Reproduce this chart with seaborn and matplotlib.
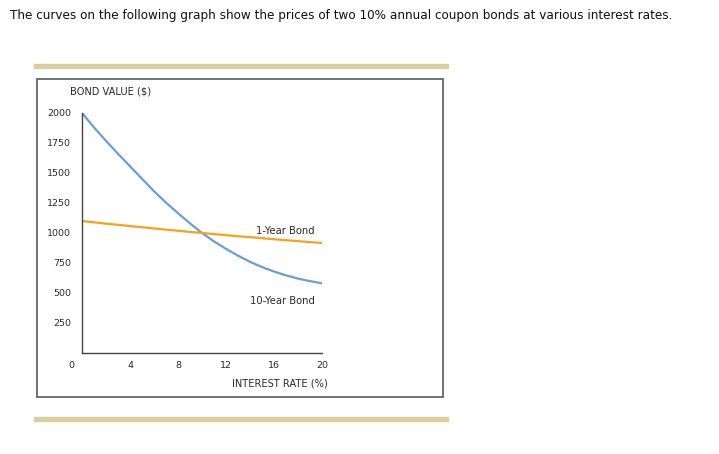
import matplotlib
matplotlib.use("Agg")
import matplotlib.pyplot as plt
import seaborn as sns
import pandas as pd
from matplotlib.patches import Rectangle

rates = [0, 1, 2, 3, 4, 5, 6, 7, 8, 9, 10, 11, 12, 13, 14, 15, 16, 17, 18, 19, 20]
ten_year = [2000, 1880, 1768, 1660, 1556, 1452, 1348, 1253, 1165, 1080, 1000,
            930, 868, 811, 760, 716, 679, 647, 620, 599, 581]
one_year = [1100, 1089, 1078, 1068, 1058, 1048, 1038, 1028, 1019, 1009, 1000,
            991, 982, 973, 965, 957, 948, 940, 932, 924, 917]
x_ticks = [4, 8, 12, 16, 20]
y_ticks = [250, 500, 750, 1000, 1250, 1500, 1750, 2000]

df = pd.DataFrame({
    "rate": rates * 2,
    "value": ten_year + one_year,
    "bond": ["10-Year Bond"] * len(rates) + ["1-Year Bond"] * len(rates),
})

sns.set_theme(style="white")
plt.rcParams['font.family'] = ['DejaVu Sans']

W, H = 719, 454
fig = plt.figure(figsize=(W / 100, H / 100), dpi=100)

def fx(px):
    return px / W

def fy(py):
    return 1 - py / H

# decorative bars and frame
fig.patches.append(Rectangle((fx(34), fy(67.5)), fx(448) - fx(34), 3.5 / H,
                             transform=fig.transFigure, color="#dccf9f", zorder=0))
fig.patches.append(Rectangle((fx(34), fy(420.5)), fx(448) - fx(34), 3.5 / H,
                             transform=fig.transFigure, color="#dccf9f", zorder=0))
fig.patches.append(Rectangle((fx(37), fy(397)), fx(443) - fx(37), (397 - 79) / H,
                             transform=fig.transFigure, fill=False,
                             edgecolor="#5a5a5a", linewidth=1.2, zorder=0))

fig.text(fx(10), fy(16), "The curves on the following graph show the prices of two 10% annual coupon bonds at various interest rates.",
         fontsize=8.65, color="#111111", va="center", ha="left")

ax = fig.add_axes([fx(82), fy(353), fx(322) - fx(82), (353 - 113) / H])
sns.lineplot(data=df, x="rate", y="value", hue="bond",
             palette={"10-Year Bond": "#6a9ed6", "1-Year Bond": "#f7a21a"},
             linewidth=1.6, ax=ax, legend=False)
ax.set_xlim(0, 20)
ax.set_ylim(0, 2000)
ax.set_xticks(x_ticks)
ax.set_yticks(y_ticks)
ax.set_xticklabels([str(t) for t in x_ticks])
ax.set_yticklabels([str(t) for t in y_ticks])
ax.tick_params(axis="both", length=0, labelsize=6.8, colors="#2a2a2a")
ax.tick_params(axis="x", pad=6)
ax.tick_params(axis="y", pad=8)
ax.set_xlabel("")
ax.set_ylabel("")
for s in ["top", "right"]:
    ax.spines[s].set_visible(False)
for s in ["left", "bottom"]:
    ax.spines[s].set_color("#444444")
    ax.spines[s].set_linewidth(1.0)
ax.patch.set_alpha(0)

ax.text(-0.85, -100, "0", fontsize=6.8, color="#2a2a2a", ha="center", va="center")
ax.text(19.4, 1017, "1-Year Bond", fontsize=7.2, color="#2a2a2a", ha="right", va="center")
ax.text(19.4, 433, "10-Year Bond", fontsize=7.2, color="#2a2a2a", ha="right", va="center")
fig.text(fx(70), fy(91), "BOND VALUE ($)", fontsize=7.1, color="#2a2a2a", ha="left", va="center")
fig.text(fx(328), fy(383), "INTEREST RATE (%)", fontsize=7.1, color="#2a2a2a", ha="right", va="center")

fig.savefig("out.png", dpi=100)
